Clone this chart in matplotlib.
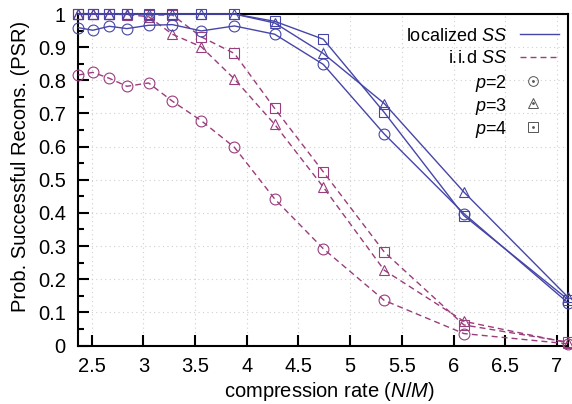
import matplotlib
matplotlib.use("Agg")
import matplotlib.pyplot as plt
from matplotlib.ticker import MultipleLocator, FuncFormatter

plt.rcParams['font.family'] = ['Liberation Sans', 'DejaVu Sans']
plt.rcParams['mathtext.fontset'] = 'custom'
plt.rcParams['mathtext.rm'] = 'Liberation Sans'
plt.rcParams['mathtext.it'] = 'Liberation Sans:italic'
FS = 14.5
KEY_FS = 13
plt.rcParams['font.size'] = FS

# compression rate N/M
rate = [2.37, 2.51, 2.67, 2.84, 3.05, 3.28, 3.56, 3.88, 4.27, 4.74, 5.33, 6.10, 7.11]

# localized SS
loc_p2 = [0.959, 0.951, 0.963, 0.956, 0.966, 0.968, 0.949, 0.964, 0.939, 0.848, 0.638, 0.398, 0.128]
loc_p3 = [1.0, 1.0, 1.0, 1.0, 1.0, 1.0, 1.0, 1.0, 0.973, 0.881, 0.730, 0.463, 0.145]
loc_p4 = [1.0, 1.0, 1.0, 1.0, 1.0, 1.0, 1.0, 1.0, 0.978, 0.924, 0.703, 0.392, 0.138]

# i.i.d SS
iid_p2 = [0.816, 0.824, 0.806, 0.782, 0.792, 0.737, 0.678, 0.598, 0.442, 0.292, 0.136, 0.036, 0.005]
iid_p3 = [1.0, 1.0, 1.0, 0.998, 0.992, 0.939, 0.901, 0.804, 0.667, 0.478, 0.227, 0.073, 0.008]
iid_p4 = [1.0, 1.0, 1.0, 1.0, 0.997, 0.997, 0.931, 0.881, 0.715, 0.524, 0.282, 0.062, 0.010]

BLUE = '#4646a8'
PURPLE = '#9a3d7c'
DASH = (4.3, 2.9)

fig = plt.figure(figsize=(5.72, 4.04), dpi=100)
ax = fig.add_axes([0.1369, 0.1448, 0.8566, 0.8205])

mk = dict(markersize=7.8, markerfacecolor='none', markeredgewidth=0.8)

for y, m in ((iid_p2, 'o'), (iid_p3, '^'), (iid_p4, 's')):
    ax.plot(rate, y, color=PURPLE, lw=1.0, dashes=DASH, marker=m,
            markeredgecolor=PURPLE, clip_on=False, zorder=3, **mk)
for y, m in ((loc_p2, 'o'), (loc_p3, '^'), (loc_p4, 's')):
    ax.plot(rate, y, color=BLUE, lw=1.0, marker=m,
            markeredgecolor=BLUE, clip_on=False, zorder=4, **mk)

ax.set_xlim(2.37, 7.11)
ax.set_ylim(0, 1)
ax.xaxis.set_major_locator(MultipleLocator(0.5))
ax.yaxis.set_major_locator(MultipleLocator(0.1))
ax.yaxis.set_minor_locator(MultipleLocator(0.05))
fmt = FuncFormatter(lambda v, p: f"{v:g}")
ax.xaxis.set_major_formatter(fmt)
ax.yaxis.set_major_formatter(fmt)

ax.tick_params(which='major', direction='in', length=8, width=1.5, labelsize=FS)
ax.tick_params(axis='y', which='major', pad=9)
ax.tick_params(axis='x', which='major', pad=8)
ax.tick_params(which='minor', direction='in', length=4, width=1.5)
ax.tick_params(top=False, right=False, which='both')
for s in ax.spines.values():
    s.set_linewidth(1.5)

ax.grid(True, which='major', color='#d0d0d0', lw=0.8, linestyle=(0, (1, 3)))
ax.set_axisbelow(True)

ax.set_xlabel('compression rate ($N$/$M$)', fontsize=FS)
ax.set_ylabel('Prob. Successful Recons. (PSR)', fontsize=FS)
ax.xaxis.set_label_coords(0.512, -0.103)
ax.yaxis.set_label_coords(-0.098, 0.54)

# key, right-aligned text with samples to the right
tx, lx0, lx1, mx = 0.875, 0.901, 0.981, 0.928
rows = [0.9397, 0.871, 0.798, 0.731, 0.660]
labels = ['localized $SS$', 'i.i.d $SS$', '$p$=2', '$p$=3', '$p$=4']
for r, lab in zip(rows, labels):
    ax.text(tx, r, lab, transform=ax.transAxes, ha='right', va='center_baseline',
            fontsize=KEY_FS, zorder=6)
ax.plot([lx0, lx1], [rows[0]] * 2, transform=ax.transAxes, color=BLUE, lw=1.0, zorder=6)
ax.plot([lx0, lx1], [rows[1]] * 2, transform=ax.transAxes, color=PURPLE, lw=1.0,
        dashes=DASH, zorder=6)
for r, m in zip(rows[2:], ['o', '^', 's']):
    ax.plot([mx], [r], transform=ax.transAxes, marker=m, markersize=7.0,
            markerfacecolor='none', markeredgecolor='#555555', markeredgewidth=0.7, zorder=6)
    ax.plot([mx], [r], transform=ax.transAxes, marker='o', markersize=1.0,
            color='#555555', zorder=6)

fig.savefig('out.png', dpi=100)
